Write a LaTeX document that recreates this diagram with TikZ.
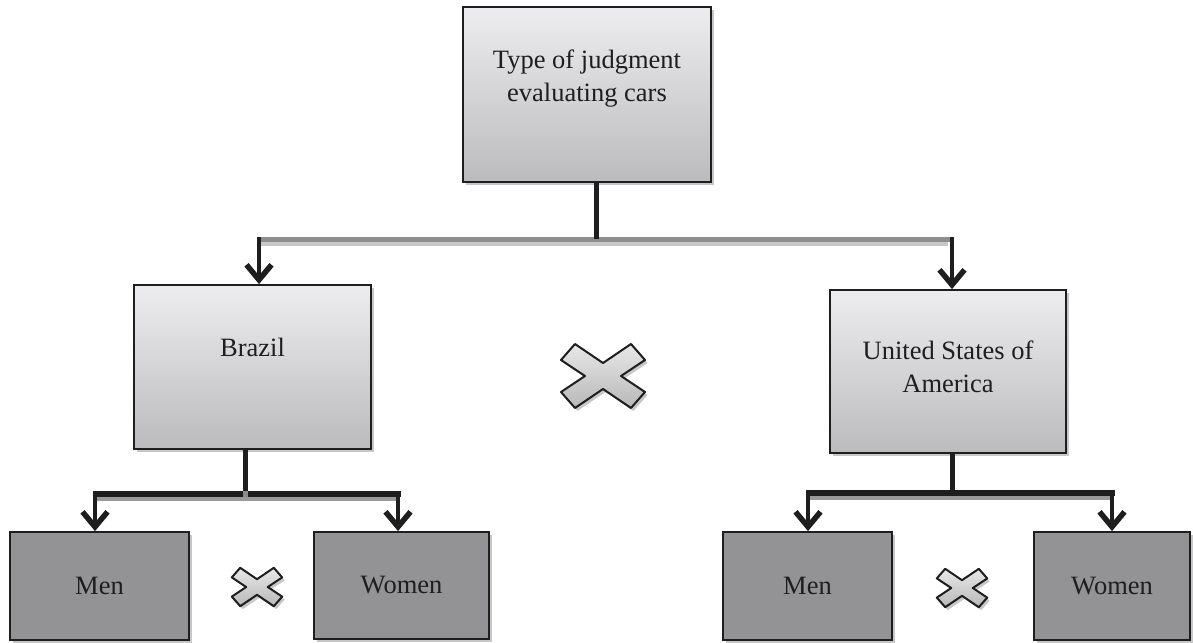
\documentclass[tikz,border=0pt]{standalone}
\usepackage{fontspec}
\setmainfont{Liberation Serif}
\usetikzlibrary{arrows.meta,shadows}
\definecolor{boxtop}{HTML}{EDEDEF}
\definecolor{boxbot}{HTML}{BBBBBD}
\definecolor{darkfill}{HTML}{939396}
\definecolor{edge}{HTML}{1E1E1E}
\definecolor{bardark}{HTML}{8E8E90}
\definecolor{barlight}{HTML}{C8C8CA}
\definecolor{xtop}{HTML}{E8E8E8}
\definecolor{xbot}{HTML}{B8B8BA}
\tikzset{
  shadowed/.style={drop shadow={shadow xshift=2.5pt,shadow yshift=-3pt,fill=black!22,opacity=1}},
  lightbox/.style={draw=edge, line width=1.8pt, top color=boxtop, bottom color=boxbot, shadowed, inner sep=0pt},
  darkbox/.style={draw=edge, line width=1.8pt, fill=darkfill, shadowed, inner sep=0pt,
    font=\fontsize{26.5}{33}\selectfont, text=edge},
  boxtext/.style={font=\fontsize{26.5}{33}\selectfont, text=edge, align=center, inner sep=0pt},
  stem/.style={draw=edge, line width=5pt},
  bardk/.style={draw=bardark, line width=5pt},
  barlt/.style={draw=barlight, line width=4pt},
  bkbar/.style={draw=edge, line width=6pt},
  gybar/.style={draw=black!40, line width=4pt},
  arr/.style={draw=edge, line width=4pt, -{Straight Barb[length=15pt,width=25pt,line width=5.5pt]}},
  xmark/.pic={
    \path[draw=edge, line width=2pt, line join=round, top color=xtop, bottom color=xbot, shadowed]
      (-28,-32) -- (0,-13) -- (28,-32) -- (42,-16) -- (18,0) -- (42,16) -- (28,32)
      -- (0,13) -- (-28,32) -- (-42,16) -- (-18,0) -- (-42,-16) -- cycle;
  }
}
\begin{document}
\begin{tikzpicture}[x=1pt,y=-1pt]
\useasboundingbox (0,0) rectangle (1193,642);

% boxes
\node[lightbox, minimum width=248pt, minimum height=175pt,
  label={[boxtext, yshift=16pt, name=toptext]center:{Type of judgment\\evaluating cars}}]
  (top) at (587,94.5) {};
\node[lightbox, minimum width=237pt, minimum height=164pt,
  label={[boxtext, yshift=20pt, name=brtext]center:Brazil}]
  (brazil) at (252.5,367) {};
\node[lightbox, minimum width=236pt, minimum height=163pt,
  label={[boxtext, yshift=5pt, name=ustext]center:{United States of\\America}}]
  (usa) at (948,371.5) {};

\node[darkbox, minimum width=179pt, minimum height=108pt] (menL) at (99.5,586) {Men};
\node[darkbox, minimum width=175pt, minimum height=107pt] (womenL) at (401.5,585.5) {Women};
\node[darkbox, minimum width=169pt, minimum height=108pt] (menR) at (807.5,586) {Men};
\node[darkbox, minimum width=156pt, minimum height=108pt] (womenR) at (1112,586) {Women};

% top connector
\coordinate (tstem) at (596,239);
\coordinate (tl) at (259,239);
\coordinate (tr) at (952,239);
\draw[barlt] (257,243.5) -- (948,243.5);
\draw[bardk] (257,239) -- (954,239);
\draw[stem] ([xshift=9pt]top.south) -- (tstem);
\draw[arr] ([yshift=2.5pt]tl) -- (tl |- brazil.north);
\draw[arr] ([yshift=2.5pt]tr) -- (tr |- usa.north);

% bottom left connector
\coordinate (bls) at (245,494);
\coordinate (bl1) at (95,494);
\coordinate (bl2) at (398,494);
\draw[gybar] (95,499) -- (398,499);
\draw[stem] (brazil.south -| bls) -- (bls);
\draw[bkbar] (92.5,494) -- (400.5,494);
\fill[black!45] (242.5,491) rectangle (247.5,497);
\draw[arr] (bl1) -- (bl1 |- menL.north);
\draw[arr] (bl2) -- (bl2 |- womenL.north);

% bottom right connector
\coordinate (brs) at (952,493);
\coordinate (br1) at (808,493);
\coordinate (br2) at (1112,493);
\draw[gybar] (808,498) -- (1112,498);
\draw[stem] (usa.south -| brs) -- (brs);
\draw[bkbar] (805.5,493) -- (1114.5,493);
\draw[arr] (br1) -- (br1 |- menR.north);
\draw[arr] (br2) -- (br2 |- womenR.north);

% cross marks
\pic at (603,376) {xmark};
\pic[scale=0.6] at (257,587) {xmark};
\pic[scale=0.6] at (962,588) {xmark};
\end{tikzpicture}
\end{document}
